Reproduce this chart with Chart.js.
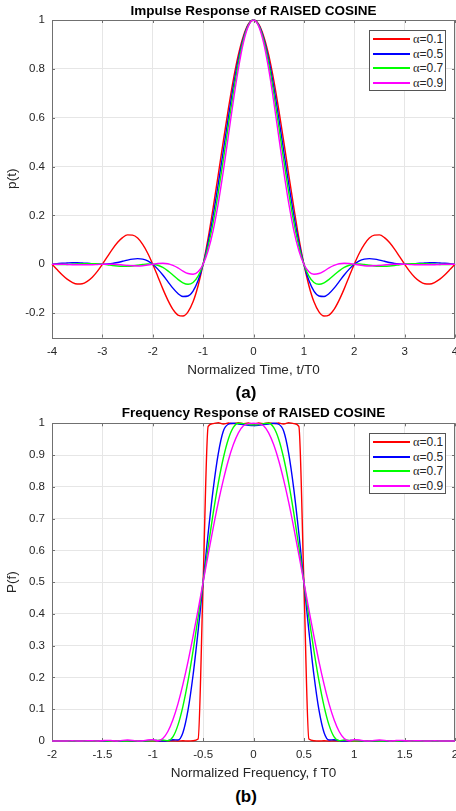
<!DOCTYPE html>
<html>
<head>
<meta charset="utf-8">
<script src="https://cdn.jsdelivr.net/npm/chart.js@4"></script>
<style>
  body { margin: 0; width: 456px; height: 811px; overflow: hidden; background: #fff; position: relative; }
  .wrap { position: absolute; left: 0; width: 470px; height: 385px; }
  .legend { position: absolute; box-sizing: border-box; width: 77px; height: 61px; padding: 1px 0 0 3px;
    border: 1px solid #555; background: #fff; font: 12px 'Liberation Sans', Arial, sans-serif; color: #262626; }
  .legend .row { position: relative; height: 14.6px; line-height: 14.6px; padding-left: 40px; white-space: nowrap; }
  .legend .swatch { position: absolute; left: 0; top: 6px; width: 37px; height: 2px; }
  .legend .greek { font-family: 'Liberation Serif', 'DejaVu Serif', serif; font-size: 12.5px; }
  .caption { position: absolute; left: 0; width: 492px; text-align: center; line-height: 20px;
    font: bold 17px 'Liberation Sans', Arial, sans-serif; color: #000; }
</style>
</head>
<body>
<div class="wrap" style="top:0">
  <canvas id="impulseChart" width="470" height="385"></canvas>
  <div class="legend" id="impulseLegend" style="left:369px; top:30px"></div>
</div>
<div class="wrap" style="top:400px">
  <canvas id="freqChart" width="470" height="385"></canvas>
  <div class="legend" id="freqLegend" style="left:369px; top:33px"></div>
</div>
<div class="caption" style="top:383px">(a)</div>
<div class="caption" style="top:787px">(b)</div>

<script>
// roll-off factors
const alphas = ["0.1", "0.5", "0.7", "0.9"];
const lineColors = ["#ff0000", "#0000ff", "#00ff00", "#ff00ff"];

// (a) impulse response, t/T0 from -4 to 4
const timeAxis = [
  -4, -3.9, -3.8, -3.7, -3.6, -3.5, -3.4, -3.3, -3.2, -3.1,
  -3, -2.9, -2.8, -2.7, -2.6, -2.5, -2.4, -2.3, -2.2, -2.1,
  -2, -1.9, -1.8, -1.7, -1.6, -1.5, -1.4, -1.3, -1.2, -1.1,
  -1, -0.9, -0.8, -0.7, -0.6, -0.5, -0.4, -0.3, -0.2, -0.1,
  0,
  0.1, 0.2, 0.3, 0.4, 0.5, 0.6, 0.7, 0.8, 0.9, 1,
  1.1, 1.2, 1.3, 1.4, 1.5, 1.6, 1.7, 1.8, 1.9, 2,
  2.1, 2.2, 2.3, 2.4, 2.5, 2.6, 2.7, 2.8, 2.9, 3,
  3.1, 3.2, 3.3, 3.4, 3.5, 3.6, 3.7, 3.8, 3.9, 4
];
const pulse01 = [
  0, -0.022, -0.043, -0.061, -0.074, -0.081, -0.080, -0.070, -0.053, -0.029,
  0, 0.031, 0.062, 0.089, 0.109, 0.120, 0.119, 0.107, 0.081, 0.045,
  0, -0.050, -0.101, -0.147, -0.185, -0.208, -0.212, -0.195, -0.154, -0.088,
  0, 0.108, 0.233, 0.366, 0.503, 0.635, 0.756, 0.858, 0.935, 0.984,
  1,
  0.984, 0.935, 0.858, 0.756, 0.635, 0.503, 0.366, 0.233, 0.108, 0,
  -0.088, -0.154, -0.195, -0.212, -0.208, -0.185, -0.147, -0.101, -0.050, 0,
  0.045, 0.081, 0.107, 0.119, 0.120, 0.109, 0.089, 0.062, 0.031, 0,
  -0.029, -0.053, -0.070, -0.080, -0.081, -0.074, -0.061, -0.043, -0.022, 0
];
const pulse05 = [
  0, 0.002, 0.004, 0.005, 0.006, 0.006, 0.005, 0.004, 0.002, 0.001,
  0, 0.001, 0.003, 0.007, 0.012, 0.017, 0.021, 0.023, 0.021, 0.014,
  0, -0.020, -0.044, -0.071, -0.098, -0.120, -0.132, -0.130, -0.110, -0.067,
  0, 0.090, 0.201, 0.328, 0.463, 0.600, 0.729, 0.841, 0.927, 0.981,
  1,
  0.981, 0.927, 0.841, 0.729, 0.600, 0.463, 0.328, 0.201, 0.090, 0,
  -0.067, -0.110, -0.130, -0.132, -0.120, -0.098, -0.071, -0.044, -0.020, 0,
  0.014, 0.021, 0.023, 0.021, 0.017, 0.012, 0.007, 0.003, 0.001, 0,
  0.001, 0.002, 0.004, 0.005, 0.006, 0.006, 0.005, 0.004, 0.002, 0
];
const pulse07 = [
  0, -0.001, -0.001, -0.001, 0, 0.001, 0.002, 0.002, 0.002, 0.002,
  0, -0.002, -0.005, -0.007, -0.008, -0.008, -0.007, -0.004, -0.001, 0.001,
  0, -0.004, -0.013, -0.027, -0.044, -0.062, -0.076, -0.082, -0.075, -0.049,
  0, 0.074, 0.172, 0.292, 0.426, 0.567, 0.703, 0.824, 0.919, 0.979,
  1,
  0.979, 0.919, 0.824, 0.703, 0.567, 0.426, 0.292, 0.172, 0.074, 0,
  -0.049, -0.075, -0.082, -0.076, -0.062, -0.044, -0.027, -0.013, -0.004, 0,
  0.001, -0.001, -0.004, -0.007, -0.008, -0.008, -0.007, -0.005, -0.002, 0,
  0.002, 0.002, 0.002, 0.002, 0.001, 0, -0.001, -0.001, -0.001, 0
];
const pulse09 = [
  0, 0, 0, -0.001, -0.002, -0.002, -0.002, -0.002, -0.002, -0.001,
  0, 0, 0, -0.001, -0.003, -0.005, -0.006, -0.007, -0.006, -0.003,
  0, 0.003, 0.004, 0.002, -0.005, -0.015, -0.028, -0.038, -0.041, -0.031,
  0, 0.056, 0.139, 0.249, 0.380, 0.524, 0.669, 0.801, 0.908, 0.976,
  1,
  0.976, 0.908, 0.801, 0.669, 0.524, 0.380, 0.249, 0.139, 0.056, 0,
  -0.031, -0.041, -0.038, -0.028, -0.015, -0.005, 0.002, 0.004, 0.003, 0,
  -0.003, -0.006, -0.007, -0.006, -0.005, -0.003, -0.001, 0, 0, 0,
  -0.001, -0.002, -0.002, -0.002, -0.002, -0.002, -0.001, 0, 0, 0
];
const timeTicks = [-4, -3, -2, -1, 0, 1, 2, 3, 4];
const pulseTicks = [-0.2, 0, 0.2, 0.4, 0.6, 0.8, 1];

// (b) frequency response, f T0 from -2 to 2
const freqAxis = [
  -2, -1.95, -1.9, -1.85, -1.8, -1.75, -1.7, -1.65, -1.6, -1.55,
  -1.5, -1.45, -1.4, -1.35, -1.3, -1.25, -1.2, -1.15, -1.1, -1.05,
  -1, -0.95, -0.9, -0.85, -0.8, -0.75, -0.7, -0.65, -0.6, -0.55,
  -0.5, -0.45, -0.4, -0.35, -0.3, -0.25, -0.2, -0.15, -0.1, -0.05,
  0,
  0.05, 0.1, 0.15, 0.2, 0.25, 0.3, 0.35, 0.4, 0.45, 0.5,
  0.55, 0.6, 0.65, 0.7, 0.75, 0.8, 0.85, 0.9, 0.95, 1,
  1.05, 1.1, 1.15, 1.2, 1.25, 1.3, 1.35, 1.4, 1.45, 1.5,
  1.55, 1.6, 1.65, 1.7, 1.75, 1.8, 1.85, 1.9, 1.95, 2
];
const spec01 = [
  0, 0, 0, 0, 0, 0, 0, 0, 0, 0, 0, 0.001, 0, 0, 0, 0, 0.001, 0, 0, 0,
  0, 0.001, 0, 0, 0.001, 0, 0.001, 0, 0.001, 0.006, 0.5, 0.99, 0.999, 1.002, 0.998, 1.001, 0.999, 1.002, 0.999, 1.001,
  0.998,
  1.001, 0.999, 1.002, 0.999, 1.001, 0.998, 1.002, 0.999, 0.99, 0.5, 0.006, 0.001, 0, 0.001, 0, 0.001, 0, 0, 0.001, 0,
  0, 0, 0, 0.001, 0, 0, 0, 0, 0.001, 0, 0, 0, 0, 0, 0, 0, 0, 0, 0, 0
];
const spec05 = [
  0, 0, 0, 0, 0, 0, 0, 0, 0, 0.001, 0, 0, 0.001, 0, 0, 0.001, 0.001, 0, 0, 0.001,
  0.002, 0.001, 0, 0.001, 0.004, 0.003, 0.027, 0.097, 0.207, 0.346, 0.5, 0.654, 0.793, 0.904, 0.975, 0.997, 1, 0.998, 0.996, 0.994,
  0.993,
  0.994, 0.996, 0.998, 1, 0.997, 0.975, 0.904, 0.793, 0.654, 0.5, 0.346, 0.207, 0.097, 0.027, 0.003, 0.004, 0.001, 0, 0.001, 0.002,
  0.001, 0, 0, 0.001, 0.001, 0, 0, 0.001, 0, 0, 0.001, 0, 0, 0, 0, 0, 0, 0, 0, 0
];
const spec07 = [
  0, 0, 0, 0, 0, 0, 0, 0, 0, 0, 0.001, 0, 0, 0.001, 0, 0, 0.001, 0.001, 0, 0.001,
  0.001, 0.002, 0.003, 0.001, 0.013, 0.05, 0.11, 0.189, 0.284, 0.389, 0.5, 0.611, 0.717, 0.811, 0.89, 0.95, 0.987, 1, 0.999, 0.996,
  0.995,
  0.996, 0.999, 1, 0.987, 0.95, 0.89, 0.811, 0.717, 0.611, 0.5, 0.389, 0.284, 0.189, 0.11, 0.05, 0.013, 0.001, 0.003, 0.002, 0.001,
  0.001, 0, 0.001, 0.001, 0, 0, 0.001, 0, 0, 0.001, 0, 0, 0, 0, 0, 0, 0, 0, 0, 0
];
const spec09 = [
  0, 0, 0, 0, 0.001, 0, 0, 0.001, 0.001, 0, 0.001, 0.002, 0.001, 0, 0.002, 0.003, 0.002, 0, 0.001, 0.003,
  0.004, 0.001, 0.008, 0.03, 0.067, 0.117, 0.179, 0.25, 0.329, 0.413, 0.5, 0.587, 0.671, 0.75, 0.821, 0.883, 0.933, 0.97, 0.992, 0.999,
  1,
  0.999, 0.992, 0.97, 0.933, 0.883, 0.821, 0.75, 0.671, 0.587, 0.5, 0.413, 0.329, 0.25, 0.179, 0.117, 0.067, 0.03, 0.008, 0.001, 0.004,
  0.003, 0.001, 0, 0.002, 0.003, 0.002, 0, 0.001, 0.002, 0.001, 0, 0.001, 0.001, 0, 0, 0.001, 0, 0, 0, 0
];
const freqTicks = [-2, -1.5, -1, -0.5, 0, 0.5, 1, 1.5, 2];
const specTicks = [0, 0.1, 0.2, 0.3, 0.4, 0.5, 0.6, 0.7, 0.8, 0.9, 1];

Chart.defaults.font.family = "'Liberation Sans', Arial, sans-serif";
Chart.defaults.color = "#262626";

const AXIS_COLOR = "#707070";

// MATLAB style box with inward ticks on all four sides
const axesBox = {
  id: "axesBox",
  beforeDatasetsDraw(chart) {
    const { ctx, chartArea: a, scales } = chart;
    ctx.save();
    ctx.strokeStyle = AXIS_COLOR;
    ctx.lineWidth = 1;
    ctx.beginPath();
    scales.x.ticks.forEach((t) => {
      const px = Math.round(scales.x.getPixelForValue(t.value)) + 0.5;
      ctx.moveTo(px, a.bottom); ctx.lineTo(px, a.bottom - 3);
      ctx.moveTo(px, a.top); ctx.lineTo(px, a.top + 3);
    });
    scales.y.ticks.forEach((t) => {
      const py = Math.round(scales.y.getPixelForValue(t.value)) + 0.5;
      ctx.moveTo(a.left, py); ctx.lineTo(a.left + 3, py);
      ctx.moveTo(a.right, py); ctx.lineTo(a.right - 3, py);
    });
    ctx.stroke();
    ctx.strokeRect(Math.round(a.left) + 0.5, Math.round(a.top) + 0.5,
      Math.round(a.right - a.left) - 1, Math.round(a.bottom - a.top));
    ctx.restore();
  },
};

function makeDatasets(xs, series) {
  return series.map((ys, i) => ({
    label: "α=" + alphas[i],
    data: xs.map((x, j) => ({ x: x, y: ys[j] })),
    borderColor: lineColors[i],
    backgroundColor: lineColors[i],
    borderWidth: 1.4,
    pointRadius: 0,
    cubicInterpolationMode: "monotone",
    order: series.length - i,
    clip: false,
  }));
}

function makeChart(canvasId, cfg) {
  const ctx = document.getElementById(canvasId).getContext("2d");
  return new Chart(ctx, {
    type: "line",
    data: { datasets: makeDatasets(cfg.xs, cfg.series) },
    plugins: [axesBox],
    options: {
      responsive: false,
      animation: false,
      layout: { padding: { left: 0, right: 15, top: 0, bottom: 0 } },
      plugins: {
        legend: { display: false },
        tooltip: { enabled: false },
        title: {
          display: true,
          text: cfg.title,
          color: "#000",
          fullSize: false,
          font: { size: 13.5, weight: "bold", lineHeight: 1.2 },
          padding: cfg.titlePad,
        },
      },
      scales: {
        x: {
          type: "linear",
          min: cfg.xTicks[0],
          max: cfg.xTicks[cfg.xTicks.length - 1],
          afterBuildTicks: (s) => { s.ticks = cfg.xTicks.map((v) => ({ value: v })); },
          afterFit: (s) => { s.height = cfg.xHeight; },
          border: { display: false },
          grid: { color: "#e6e6e6", drawTicks: false },
          ticks: { padding: cfg.xTickPad, autoSkip: false, maxRotation: 0, font: { size: 11.5 },
            callback: (v) => String(v) },
          title: { display: true, text: cfg.xLabel, font: { size: 13.5, lineHeight: 1.2 },
            padding: { top: 0, bottom: cfg.xTitlePad } },
        },
        y: {
          type: "linear",
          min: cfg.yMin,
          max: cfg.yMax,
          afterBuildTicks: (s) => { s.ticks = cfg.yTicks.map((v) => ({ value: v })); },
          afterFit: (s) => { s.width = 52; },
          border: { display: false },
          grid: { color: "#e6e6e6", drawTicks: false },
          ticks: { padding: 7, autoSkip: false, font: { size: 11.5 }, callback: (v) => String(v) },
          title: { display: true, text: cfg.yLabel, font: { size: 13.5, lineHeight: 1.2 },
            padding: { top: 4, bottom: 0 } },
        },
      },
    },
  });
}

function buildLegend(chart, boxId) {
  const box = document.getElementById(boxId);
  chart.data.datasets.forEach((ds) => {
    const row = document.createElement("div");
    row.className = "row";
    const swatch = document.createElement("span");
    swatch.className = "swatch";
    swatch.style.background = ds.borderColor;
    const greek = document.createElement("span");
    greek.className = "greek";
    greek.textContent = ds.label.slice(0, 1);
    const rest = document.createElement("span");
    rest.textContent = ds.label.slice(1);
    row.appendChild(swatch);
    row.appendChild(greek);
    row.appendChild(rest);
    box.appendChild(row);
  });
}

const impulseChart = makeChart("impulseChart", {
  xs: timeAxis,
  series: [pulse01, pulse05, pulse07, pulse09],
  title: "Impulse Response of RAISED COSINE",
  titlePad: { top: 2.8, bottom: 1 },
  xTicks: timeTicks,
  yTicks: pulseTicks,
  yMin: -0.3,
  yMax: 1,
  xLabel: "Normalized Time, t/T0",
  yLabel: "p(t)",
  xHeight: 47.5,
  xTickPad: 7.5,
  xTitlePad: 6.9,
});

const freqChart = makeChart("freqChart", {
  xs: freqAxis,
  series: [spec01, spec05, spec07, spec09],
  title: "Frequency Response of RAISED COSINE",
  titlePad: { top: 4.9, bottom: 2.2 },
  xTicks: freqTicks,
  yTicks: specTicks,
  yMin: 0,
  yMax: 1,
  xLabel: "Normalized Frequency, f T0",
  yLabel: "P(f)",
  xHeight: 44,
  xTickPad: 7.1,
  xTitlePad: 3.9,
});

buildLegend(impulseChart, "impulseLegend");
buildLegend(freqChart, "freqLegend");
</script>
</body>
</html>
